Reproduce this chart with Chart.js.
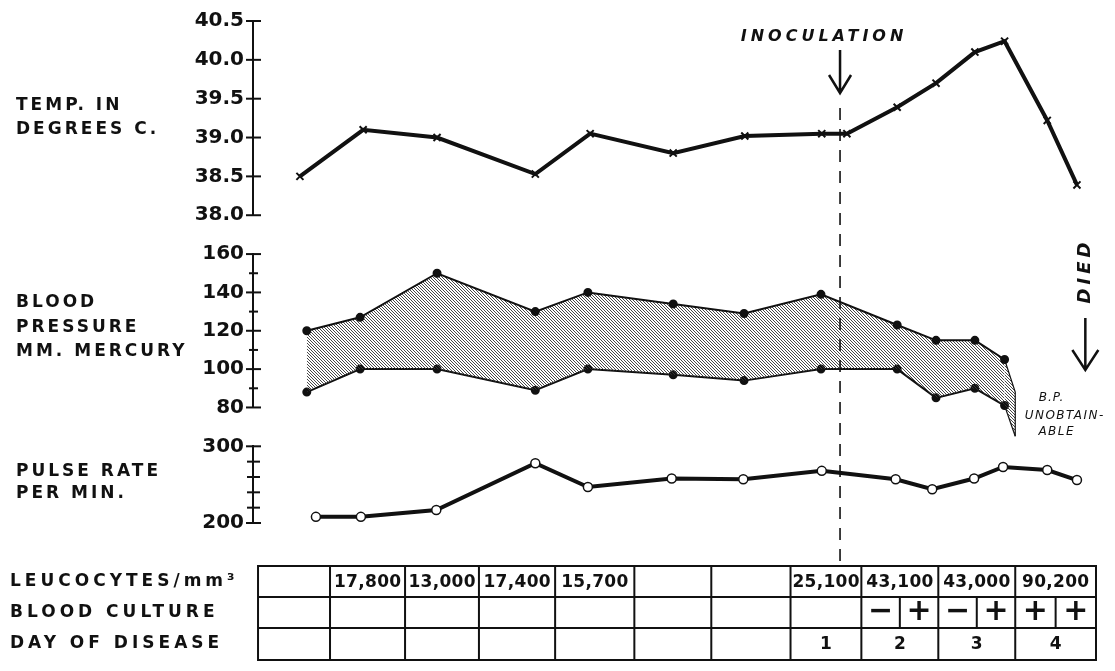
<!DOCTYPE html>
<html>
<head>
<meta charset="utf-8">
<script src="https://cdn.jsdelivr.net/npm/chart.js@4.4.1/dist/chart.umd.min.js"></script>
<style>
  html, body { margin: 0; padding: 0; background: #fff; }
</style>
</head>
<body>
<canvas id="chart" width="1115" height="671"></canvas>
<script>
// x positions are in table-column units (0 = left edge of the table)
const tempX = [0.55, 1.38, 2.35, 3.64, 4.36, 5.45, 6.39, 7.40, 7.73, 8.39, 8.90, 9.41, 9.80, 10.36, 10.75];
const tempC = [38.5, 39.1, 39.0, 38.53, 39.05, 38.8, 39.02, 39.05, 39.05, 39.39, 39.7, 40.1, 40.24, 39.22, 38.39];

const bpX = [0.64, 1.34, 2.35, 3.64, 4.33, 5.45, 6.38, 7.39, 8.39, 8.90, 9.41, 9.80];
const bpSystolic = [120, 127, 150, 130, 140, 134, 129, 139, 123, 115, 115, 105];
const bpDiastolic = [88, 100, 100, 89, 100, 97, 94, 100, 100, 85, 90, 81];
// pressure falling away after the last reading (B.P. unobtainable)
const bpTailX = [9.94, 9.94];
const bpTailSys = [88, 65];
const bpTailDia = [65, 65];

const pulseX = [0.76, 1.35, 2.34, 3.64, 4.33, 5.43, 6.37, 7.40, 8.37, 8.85, 9.40, 9.78, 10.36, 10.75];
const pulseRate = [208, 208, 217, 278, 247, 258, 257, 268, 257, 244, 258, 273, 269, 256];

const inoculationX = 7.64;

const columnEdges = [0, 0.945, 1.93, 2.90, 3.90, 4.94, 5.95, 6.99, 7.92, 8.93, 9.94, 11];
const leucocytes = ['', '17,800', '13,000', '17,400', '15,700', '', '', '25,100', '43,100', '43,000', '90,200'];
const bloodCulture = [null, null, null, null, null, null, null, null, ['\u2212', '+'], ['\u2212', '+'], ['+', '+']];
const diseaseDay = ['', '', '', '', '', '', '', '1', '2', '3', '4'];

const INK = '#111';
const FONT = "'DejaVu Sans', 'Liberation Sans', sans-serif";
const AXIS_W = 253;

const canvas = document.getElementById('chart');
const ctxMain = canvas.getContext('2d');

// diagonal hatching for the blood pressure band
const tile = document.createElement('canvas');
tile.width = 3; tile.height = 3;
const tg = tile.getContext('2d');
tg.strokeStyle = '#333';
tg.lineWidth = 0.9;
tg.beginPath();
tg.moveTo(0, 0); tg.lineTo(3, 3);
tg.moveTo(-1, 2); tg.lineTo(1, 4);
tg.moveTo(2, -1); tg.lineTo(4, 1);
tg.stroke();
const hatch = ctxMain.createPattern(tile, 'repeat');

const pts = (xs, ys) => xs.map((x, i) => ({ x, y: ys[i] }));

const tickFont = { family: FONT, size: 20, weight: 'bold' };

function yAxis(extra) {
    return Object.assign({
        type: 'linear',
        position: 'left',
        stack: 'panels',
        grid: { display: false, drawTicks: false },
        border: { display: true, color: INK, width: 2 },
        afterFit: s => { s.width = AXIS_W; }
    }, extra);
}

function spacer(weight, stackWeight) {
    return {
        type: 'linear', position: 'left', stack: 'panels',
        weight, stackWeight, min: 0, max: 1,
        grid: { display: false, drawTicks: false },
        border: { display: false },
        ticks: { display: false },
        afterFit: s => { s.width = AXIS_W; }
    };
}

function label(ctx, str, x, y, opts = {}) {
    const { size = 17, style = 'bold', align = 'left', spacing = 0 } = opts;
    ctx.save();
    ctx.font = `${style} ${size}px ${FONT}`;
    ctx.letterSpacing = spacing + 'px';
    ctx.textAlign = align;
    ctx.textBaseline = 'middle';
    ctx.fillStyle = INK;
    ctx.fillText(str, align === 'center' ? x + spacing / 2 : x, y);
    ctx.restore();
}

function arrowDown(ctx, x, y1, y2, wing, head) {
    ctx.beginPath();
    ctx.moveTo(x, y1); ctx.lineTo(x, y2);
    ctx.moveTo(x - wing, y2 - head); ctx.lineTo(x, y2); ctx.lineTo(x + wing, y2 - head);
    ctx.stroke();
}

const tickSpec = {
    yTemp: { major: [7, 8], minor: [7, 8] },
    yBP: { major: [7, 8], minor: [4, 5] },
    yPulse: { major: [7, 8], minor: [6, 7] }
};

const decorations = {
    id: 'decorations',
    afterDatasetsDraw(chart) {
        const { ctx, scales } = chart;
        const xs = scales.x;
        ctx.save();
        ctx.strokeStyle = INK;
        ctx.lineCap = 'butt';

        // tick marks crossing each axis
        ctx.lineWidth = 2;
        for (const id of Object.keys(tickSpec)) {
            const s = scales[id];
            const ax = s.right;
            s.ticks.forEach(t => {
                const y = s.getPixelForValue(t.value);
                const major = String(t.label) !== '';
                const [l, r] = major ? tickSpec[id].major : tickSpec[id].minor;
                ctx.beginPath();
                ctx.moveTo(ax - l, y); ctx.lineTo(ax + r, y);
                ctx.stroke();
            });
        }

        // inoculation marker
        const ix = xs.getPixelForValue(inoculationX);
        ctx.lineWidth = 1.6;
        ctx.setLineDash([12, 9]);
        ctx.beginPath();
        ctx.moveTo(ix, 108); ctx.lineTo(ix, 562);
        ctx.stroke();
        ctx.setLineDash([]);
        ctx.lineWidth = 2.5;
        arrowDown(ctx, ix, 50, 93, 11, 18);
        label(ctx, 'INOCULATION', ix - 18, 37, { style: 'italic bold', size: 16, align: 'center', spacing: 4 });

        // died
        const dx = xs.getPixelForValue(10.86);
        ctx.lineWidth = 2.5;
        arrowDown(ctx, dx, 318, 370, 13, 20);
        ctx.save();
        ctx.translate(dx, 273);
        ctx.rotate(-Math.PI / 2);
        label(ctx, 'DIED', 0, 0, { style: 'italic bold', size: 18, align: 'center', spacing: 4 });
        ctx.restore();

        label(ctx, 'B.P.', 1051, 398, { style: 'italic', size: 12, align: 'center', spacing: 1 });
        label(ctx, 'UNOBTAIN-', 1064, 416, { style: 'italic', size: 12, align: 'center', spacing: 1.5 });
        label(ctx, 'ABLE', 1056, 432, { style: 'italic', size: 12, align: 'center', spacing: 1.5 });

        // panel titles
        const pl = { size: 17, spacing: 3 };
        label(ctx, 'TEMP. IN', 16, 106, pl);
        label(ctx, 'DEGREES C.', 16, 130, pl);
        label(ctx, 'BLOOD', 16, 303, pl);
        label(ctx, 'PRESSURE', 16, 328, pl);
        label(ctx, 'MM. MERCURY', 16, 352, pl);
        label(ctx, 'PULSE RATE', 16, 472, pl);
        label(ctx, 'PER MIN.', 16, 494, pl);

        // table
        const tx = columnEdges.map(e => xs.getPixelForValue(e));
        const rowY = [566, 597, 628, 660];
        const last = tx.length - 1;
        ctx.lineWidth = 2;
        ctx.beginPath();
        rowY.forEach(y => { ctx.moveTo(tx[0] - 1, y); ctx.lineTo(tx[last] + 1, y); });
        tx.forEach(x => { ctx.moveTo(x, rowY[0]); ctx.lineTo(x, rowY[3]); });
        bloodCulture.forEach((c, i) => {
            if (!c) return;
            const m = (tx[i] + tx[i + 1]) / 2;
            ctx.moveTo(m, rowY[1]); ctx.lineTo(m, rowY[2]);
        });
        ctx.stroke();

        const rc = [0, 1, 2].map(r => (rowY[r] + rowY[r + 1]) / 2);
        const tl = { size: 17, spacing: 4 };
        label(ctx, 'LEUCOCYTES/mm\u00B3', 10, rc[0], tl);
        label(ctx, 'BLOOD CULTURE', 10, rc[1], tl);
        label(ctx, 'DAY OF DISEASE', 10, rc[2], tl);

        for (let i = 0; i < leucocytes.length; i++) {
            const cx = (tx[i] + tx[i + 1]) / 2;
            if (leucocytes[i]) label(ctx, leucocytes[i], cx, rc[0] + 1, { size: 17, align: 'center', spacing: 0.3 });
            if (bloodCulture[i]) {
                const q = (tx[i + 1] - tx[i]) / 4;
                label(ctx, bloodCulture[i][0], tx[i] + q, rc[1], { size: 30, align: 'center' });
                label(ctx, bloodCulture[i][1], tx[i] + 3 * q, rc[1], { size: 30, align: 'center' });
            }
            if (diseaseDay[i]) label(ctx, diseaseDay[i], cx, rc[2] + 1, { size: 17, align: 'center' });
        }
        ctx.restore();
    }
};

new Chart(ctxMain, {
    type: 'line',
    data: {
        datasets: [
            {
                label: 'Temperature',
                data: pts(tempX, tempC),
                yAxisID: 'yTemp',
                borderColor: INK,
                borderWidth: 4,
                pointStyle: 'crossRot',
                pointRadius: 5,
                pointBorderWidth: 2,
                pointBorderColor: INK,
                fill: false
            },
            {
                label: 'Systolic',
                data: pts(bpX.concat(bpTailX), bpSystolic.concat(bpTailSys)),
                yAxisID: 'yBP',
                clip: false,
                borderColor: INK,
                borderWidth: 2,
                backgroundColor: hatch,
                fill: '+1',
                pointRadius: c => c.dataIndex < bpX.length ? 3.5 : 0,
                pointBackgroundColor: INK,
                pointBorderColor: INK,
                segment: { borderWidth: c => c.p1DataIndex >= bpX.length ? 1.2 : 2 }
            },
            {
                label: 'Diastolic',
                data: pts(bpX.concat(bpTailX), bpDiastolic.concat(bpTailDia)),
                yAxisID: 'yBP',
                clip: false,
                borderColor: INK,
                borderWidth: 2,
                fill: false,
                pointRadius: c => c.dataIndex < bpX.length ? 3.5 : 0,
                pointBackgroundColor: INK,
                pointBorderColor: INK,
                segment: { borderWidth: c => c.p1DataIndex >= bpX.length ? 1.2 : 2 }
            },
            {
                label: 'Pulse',
                data: pts(pulseX, pulseRate),
                yAxisID: 'yPulse',
                borderColor: INK,
                borderWidth: 4,
                pointRadius: 4.5,
                pointBackgroundColor: '#fff',
                pointBorderColor: INK,
                pointBorderWidth: 1.5,
                fill: false
            }
        ]
    },
    options: {
        responsive: false,
        animation: false,
        devicePixelRatio: 1,
        layout: { padding: { left: 0, right: 19, top: 19.5, bottom: 148 } },
        plugins: {
            legend: { display: false },
            tooltip: { enabled: false }
        },
        scales: {
            x: { type: 'linear', display: false, min: -0.066, max: 11 },
            yTemp: yAxis({
                weight: 5, stackWeight: 195, min: 38, max: 40.5,
                ticks: {
                    color: INK, padding: 9, autoSkip: false, stepSize: 0.5, font: tickFont,
                    callback: v => v.toFixed(1)
                }
            }),
            gap1: spacer(4, 39),
            yBP: yAxis({
                weight: 3, stackWeight: 154, min: 80, max: 160,
                ticks: {
                    color: INK, padding: 9, autoSkip: false, stepSize: 10, font: tickFont,
                    callback: v => v % 20 === 0 ? String(v) : ''
                }
            }),
            gap2: spacer(2, 39),
            yPulse: yAxis({
                weight: 1, stackWeight: 77, min: 200, max: 300,
                ticks: {
                    color: INK, padding: 9, autoSkip: false, stepSize: 20, font: tickFont,
                    callback: v => (v === 200 || v === 300) ? String(v) : ''
                }
            })
        }
    },
    plugins: [decorations]
});
</script>
</body>
</html>
